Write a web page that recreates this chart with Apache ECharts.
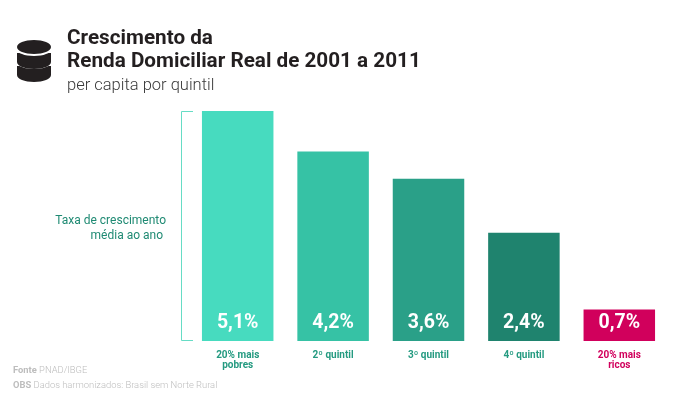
<!DOCTYPE html>
<html>
<head>
<meta charset="utf-8">
<style>html,body{margin:0;padding:0;background:#fff}#chart{width:700px;height:401px}</style>
<script src="https://cdn.jsdelivr.net/npm/echarts@6/dist/echarts.min.js"></script>
</head>
<body>
<div id="chart"></div>
<script>
// Quintile growth of real household income per capita, 2001-2011
const categories = ['20% mais\npobres', '2º quintil', '3º quintil', '4º quintil', '20% mais\nricos'];
const growthRates = [5.1, 4.2, 3.6, 2.4, 0.7];
const barColors = ['#47dbbf', '#36c2a5', '#2aa088', '#1f836e', '#d1005c'];
const labelColors = ['#249a80', '#249a80', '#249a80', '#249a80', '#d1005c'];

const FONT = 'Roboto, "Noto Sans", sans-serif';
const INK = '#231f20';
const chart = echarts.init(document.getElementById('chart'), null, { renderer: 'canvas' });

// Stacked-disc database icon, built back to front
const disc = (cy, ry, fill) => ({ type: 'ellipse', shape: { cx: 34, cy, rx: 17, ry }, style: { fill } });
const band = (y, h) => ({ type: 'rect', shape: { x: 17, y, width: 34, height: h }, style: { fill: INK } });
const icon = [
  disc(75, 7, INK), band(66, 9), disc(62.5, 6.5, '#ffffff'),
  disc(62, 7, INK), band(53, 9), disc(49.5, 6.5, '#ffffff'),
  disc(47, 7, INK)
];

chart.setOption({
  animation: false,
  backgroundColor: '#ffffff',
  grid: { left: 190, right: 33, top: 111, bottom: 60 },
  xAxis: {
    type: 'category',
    data: categories,
    axisLine: { show: false },
    axisTick: { show: false },
    axisLabel: {
      margin: 9,
      interval: 0,
      fontFamily: FONT,
      fontWeight: 'bold',
      fontSize: 10,
      lineHeight: 10,
      verticalAlign: 'top',
      color: (value, index) => labelColors[index]
    }
  },
  yAxis: { type: 'value', min: 0, max: 5.1, show: false },
  series: [{
    type: 'bar',
    barWidth: 71.5,
    data: growthRates.map((v, i) => ({ value: v, itemStyle: { color: barColors[i] } })),
    label: {
      show: true,
      position: 'insideBottom',
      distance: 8,
      color: '#ffffff',
      fontFamily: FONT,
      fontWeight: 'bold',
      fontSize: 19.5,
      formatter: p => p.value.toFixed(1).replace('.', ',') + '%'
    }
  }],
  graphic: icon.concat([
    // Heading
    { type: 'text', x: 67, y: 28, style: { text: 'Crescimento da', font: '700 20.7px ' + FONT, fill: INK } },
    { type: 'text', x: 67, y: 51, style: { text: 'Renda Domiciliar Real de 2001 a 2011', font: '700 20.7px ' + FONT, fill: INK } },
    { type: 'text', x: 67, y: 77, style: { text: 'per capita por quintil', font: '300 16.5px ' + FONT, fill: '#3a3a3a' } },
    // Bracket spanning the bars, with its caption
    { type: 'polyline', shape: { points: [[193, 111.5], [181.5, 111.5], [181.5, 340.5], [193, 340.5]] }, style: { stroke: '#66dcc5', lineWidth: 1, fill: null } },
    { type: 'text', x: 166, y: 215, style: { text: 'Taxa de crescimento', font: '400 12px ' + FONT, fill: '#1f8a73', textAlign: 'right' } },
    { type: 'text', x: 163, y: 230, style: { text: 'média ao ano', font: '400 12px ' + FONT, fill: '#1f8a73', textAlign: 'right' } },
    // Source notes
    { type: 'text', x: 13, y: 366, style: { text: '{b|Fonte} PNAD/IBGE', font: '300 9.4px ' + FONT, fill: '#bdbdbd', rich: { b: { fontWeight: 'bold', fontFamily: FONT, fontSize: 9.4, fill: '#bdbdbd' } } } },
    { type: 'text', x: 13, y: 381, style: { text: '{b|OBS} Dados harmonizados: Brasil sem Norte Rural', font: '300 9.4px ' + FONT, fill: '#bdbdbd', rich: { b: { fontWeight: 'bold', fontFamily: FONT, fontSize: 9.4, fill: '#bdbdbd' } } } }
  ])
});
</script>
</body>
</html>
